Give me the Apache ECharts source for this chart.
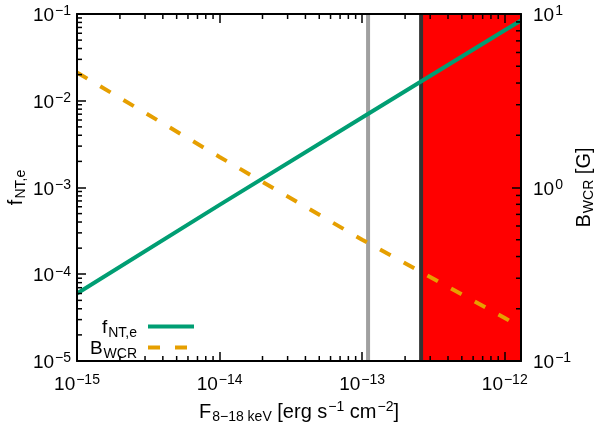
<!DOCTYPE html>
<html>
<head>
<meta charset="utf-8">
<script src="https://cdn.jsdelivr.net/npm/echarts@6/dist/echarts.min.js"></script>
<style>
html, body { margin: 0; padding: 0; background: #fff; }
#chart { width: 598px; height: 424px; }
</style>
</head>
<body>
<div id="chart"></div>
<script>
// flux grid, erg s^-1 cm^-2
const flux = [1e-15, 1e-14, 1e-13, 1e-12, 1.3e-12];
// f_NT,e (left axis)
const fNT = [6.0e-5, 6.3e-4, 6.4e-3, 6.5e-2, 8.4e-2];
// B_WCR in G (right axis)
const bWCR = [4.6, 1.50, 0.50, 0.177, 0.156];
// vertical markers
const grayLineX = 1.1e-13;
const limitX = 2.59e-13;
// axis ranges
const xRange = [1e-15, 1.3e-12];
const yLeftRange = [1e-5, 1e-1];
const yRightRange = [1e-1, 1e1];

const font = 'Liberation Sans';

// minor ticks at 2..9 x 10^n inside a range
function minors(lo, hi) {
  const out = [];
  for (let e = Math.floor(Math.log10(lo)); Math.pow(10, e) < hi; e++) {
    for (let m = 2; m <= 9; m++) {
      const v = m * Math.pow(10, e);
      if (v > lo && v < hi) out.push(v);
    }
  }
  return out;
}

const tickRich = {
  b: { fontSize: 19, fontFamily: font, color: '#000', lineHeight: 19, verticalAlign: 'top', padding: [2, 0, 0, 0] },
  sup: { fontSize: 14, fontFamily: font, color: '#000', lineHeight: 14, verticalAlign: 'top', padding: [0, 0, 0, 1] }
};
const nameRich = {
  b: { fontSize: 20, fontFamily: font, color: '#000', lineHeight: 20, verticalAlign: 'top', padding: [5, 0, 0, 0] },
  sup: { fontSize: 14, fontFamily: font, color: '#000', lineHeight: 14, verticalAlign: 'top', padding: [3, 0, 0, 1] },
  sub: { fontSize: 14, fontFamily: font, color: '#000', lineHeight: 14, verticalAlign: 'top', padding: [13, 0, 0, 1] }
};
const legendRich = {
  b: { fontSize: 19, fontFamily: font, color: '#000', lineHeight: 19, verticalAlign: 'top', padding: [5, 0, 0, 0] },
  sub: { fontSize: 14, fontFamily: font, color: '#000', lineHeight: 14, verticalAlign: 'top', padding: [13, 6, 0, 1] }
};

function expLabel(v) {
  const e = Math.round(Math.log10(v));
  return '{b|10}{sup|' + (e < 0 ? '\u2212' + (-e) : e) + '}';
}

const legendText = {
  fNT: '{b|f}{sub|NT,e}',
  BWCR: '{b|B}{sub|WCR}'
};

function logAxis(extra) {
  return Object.assign({
    type: 'log',
    logBase: 10,
    z: 10,
    nameMoveOverlap: false,
    axisLine: { show: true, onZero: false, lineStyle: { color: '#000', width: 2 } },
    axisTick: { show: true, inside: true, length: 9, lineStyle: { color: '#000', width: 1.5 } },
    minorTick: { show: false },
    splitLine: { show: false },
    axisLabel: { formatter: expLabel, rich: tickRich }
  }, extra);
}

function tickRenderer(xVals, yVals, side) {
  return function (params, api) {
    const kids = [];
    const seg = (x1, y1, x2, y2) => ({
      type: 'line',
      shape: { x1: x1, y1: y1, x2: x2, y2: y2 },
      style: { stroke: '#000', lineWidth: 1.5 }
    });
    const yr = side === 'left' ? yLeftRange : yRightRange;
    xVals.forEach(v => {
      const b = api.coord([v, yr[0]]);
      const t = api.coord([v, yr[1]]);
      kids.push(seg(b[0], b[1], b[0], b[1] - 5));
      kids.push(seg(t[0], t[1], t[0], t[1] + 5));
    });
    yVals.forEach(v => {
      if (side === 'left') {
        const p = api.coord([xRange[0], v]);
        kids.push(seg(p[0], p[1], p[0] + 5, p[1]));
      } else {
        const p = api.coord([xRange[1], v]);
        kids.push(seg(p[0], p[1], p[0] - 5, p[1]));
      }
    });
    return { type: 'group', children: kids };
  };
}

const legendBase = {
  orient: 'vertical', align: 'right', right: 404, padding: 0,
  itemWidth: 46, itemHeight: 4, selectedMode: false,
  itemStyle: { borderWidth: 0 },
  formatter: n => legendText[n],
  textStyle: { fontFamily: font, rich: legendRich, padding: [0, 0, 8, 0] }
};

const chart = echarts.init(document.getElementById('chart'));

const option = {
  animation: false,
  backgroundColor: '#fff',
  grid: { left: 77, right: 77, top: 14, bottom: 63, outerBoundsMode: 'none' },
  legend: [
    Object.assign({}, legendBase, {
      top: 313,
      data: [{ name: 'fNT', icon: 'path://M0,0h46v4h-46z' }]
    }),
    Object.assign({}, legendBase, {
      top: 334,
      data: [{ name: 'BWCR', icon: 'path://M0,0h12v4h-12z M27,0h12v4h-12z M46,0v4' }]
    })
  ],
  xAxis: [
    logAxis({
      min: xRange[0], max: xRange[1], position: 'bottom',
      axisLabel: { formatter: expLabel, rich: tickRich, margin: 12, showMaxLabel: false },
      name: '{b|F}{sub|8\u221218 keV}{b| [erg s}{sup|\u22121}{b| cm}{sup|\u22122}{b|]}',
      nameLocation: 'middle', nameGap: 36, nameTextStyle: { rich: nameRich }
    }),
    logAxis({
      min: xRange[0], max: xRange[1], position: 'top',
      axisLabel: { show: false }
    })
  ],
  yAxis: [
    logAxis({
      min: yLeftRange[0], max: yLeftRange[1], position: 'left',
      axisLabel: { formatter: expLabel, rich: tickRich, margin: 6 },
      name: '{b|f}{sub|NT,e}', nameLocation: 'middle', nameGap: 56,
      nameTextStyle: { rich: nameRich }
    }),
    logAxis({
      min: yRightRange[0], max: yRightRange[1], position: 'right',
      axisLabel: { formatter: expLabel, rich: tickRich, margin: 12 },
      name: '{b|B}{sub|WCR}{b| [G]}', nameLocation: 'middle', nameGap: 48,
      nameTextStyle: { rich: nameRich }
    })
  ],
  series: [
    {
      name: 'limit', type: 'line', z: 3, silent: true, symbol: 'none',
      data: [[limitX, yLeftRange[0]], [limitX, yLeftRange[1]]],
      lineStyle: { color: '#333333', width: 4 },
      markArea: {
        silent: true,
        itemStyle: { color: '#ff0000', opacity: 1 },
        data: [[{ xAxis: limitX }, { xAxis: xRange[1] }]]
      }
    },
    {
      name: 'gray', type: 'line', z: 3, silent: true, symbol: 'none',
      data: [[grayLineX, yLeftRange[0]], [grayLineX, yLeftRange[1]]],
      lineStyle: { color: '#a0a0a0', width: 4 }
    },
    {
      name: 'fNT', type: 'line', xAxisIndex: 0, yAxisIndex: 0, z: 6,
      symbol: 'none', silent: true,
      data: flux.map((x, i) => [x, fNT[i]]),
      itemStyle: { color: '#009e73' },
      lineStyle: { color: '#009e73', width: 4 }
    },
    {
      name: 'BWCR', type: 'line', xAxisIndex: 0, yAxisIndex: 1, z: 6,
      symbol: 'none', silent: true,
      data: flux.map((x, i) => [x, bWCR[i]]),
      itemStyle: { color: '#e69f00' },
      lineStyle: { color: '#e69f00', width: 4, type: [12, 15], cap: 'butt' }
    },
    {
      type: 'custom', xAxisIndex: 0, yAxisIndex: 0, z: 11, silent: true, clip: false,
      data: [[xRange[0], yLeftRange[0]]],
      renderItem: tickRenderer(minors(xRange[0], xRange[1]), minors(yLeftRange[0], yLeftRange[1]), 'left')
    },
    {
      type: 'custom', xAxisIndex: 0, yAxisIndex: 1, z: 11, silent: true, clip: false,
      data: [[xRange[1], yRightRange[0]]],
      renderItem: tickRenderer([], minors(yRightRange[0], yRightRange[1]), 'right')
    }
  ]
};

chart.setOption(option);
</script>
</body>
</html>
